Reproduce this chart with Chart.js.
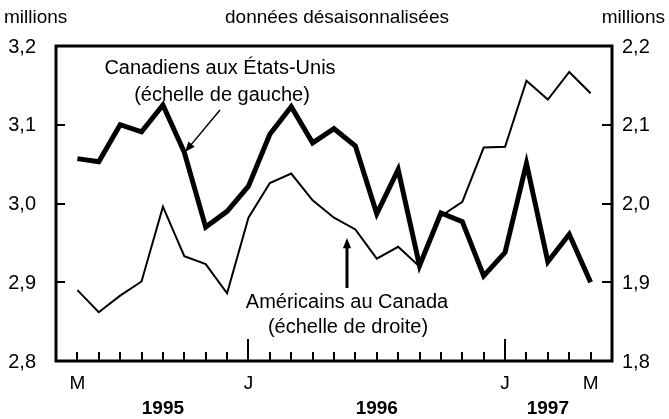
<!DOCTYPE html>
<html>
<head>
<meta charset="utf-8">
<script src="https://cdn.jsdelivr.net/npm/chart.js@4.4.1/dist/chart.umd.min.js"></script>
<style>
  html, body { margin: 0; padding: 0; background: #fff; }
  canvas { display: block; }
</style>
</head>
<body>
<canvas id="voyagesChart" width="669" height="419"></canvas>
<script>
// mai 1995 -> mai 1997, one letter per month
const months = ['M','J','J','A','S','O','N','D','J','F','M','A','M','J','J','A','S','O','N','D','J','F','M','A','M'];
const shownMonths = [0, 8, 20, 24];
const januaries = [8, 20];
const years = ['1995', '1996', '1997'];
const yearPos = [4, 14, 22];

// Canadiens aux Etats-Unis (millions, echelle de gauche)
const canadiens = [3.057, 3.053, 3.100, 3.091, 3.125, 3.065, 2.970, 2.990, 3.022, 3.088, 3.123, 3.077, 3.095,
                   3.073, 2.987, 3.043, 2.921, 2.988, 2.977, 2.908, 2.938, 3.051, 2.926, 2.961, 2.900];
// Americains au Canada (millions, echelle de droite)
const americains = [1.890, 1.862, 1.883, 1.901, 1.996, 1.933, 1.923, 1.886, 1.982, 2.026, 2.038, 2.004, 1.982,
                    1.967, 1.930, 1.945, 1.920, 1.984, 2.002, 2.071, 2.072, 2.156, 2.132, 2.167, 2.140];

const leftTicks = [2.8, 2.9, 3.0, 3.1, 3.2];
const rightTicks = [1.8, 1.9, 2.0, 2.1, 2.2];

const FONT = '"Liberation Sans", Arial, sans-serif';
const fmt = v => v.toFixed(1).replace('.', ',');

function arrow(ctx, x1, y1, x2, y2) {
    // line from (x1,y1) with head at (x2,y2)
    const a = Math.atan2(y2 - y1, x2 - x1);
    const len = 11, w = 0.38;
    ctx.beginPath();
    ctx.moveTo(x1, y1);
    ctx.lineTo(x2 - Math.cos(a) * 6, y2 - Math.sin(a) * 6);
    ctx.stroke();
    ctx.beginPath();
    ctx.moveTo(x2, y2);
    ctx.lineTo(x2 - len * Math.cos(a - w), y2 - len * Math.sin(a - w));
    ctx.lineTo(x2 - len * Math.cos(a + w), y2 - len * Math.sin(a + w));
    ctx.closePath();
    ctx.fill();
}

const framePlugin = {
    id: 'frame',
    afterDatasetsDraw(chart) {
        const ctx = chart.ctx;
        const area = chart.chartArea;
        const x = chart.scales.x, yl = chart.scales.y, yr = chart.scales.y1;
        ctx.save();
        ctx.strokeStyle = '#000';
        ctx.fillStyle = '#000';

        // frame
        ctx.lineWidth = 3;
        ctx.strokeRect(area.left, area.top, area.right - area.left, area.bottom - area.top);

        // inside ticks
        ctx.lineWidth = 2;
        ctx.beginPath();
        months.forEach((m, i) => {
            const px = Math.round(x.getPixelForValue(i));
            const h = januaries.includes(i) ? 22 : 9;
            ctx.moveTo(px, area.bottom);
            ctx.lineTo(px, area.bottom - h);
        });
        leftTicks.forEach(v => {
            const py = Math.round(yl.getPixelForValue(v));
            ctx.moveTo(area.left, py);
            ctx.lineTo(area.left + 9, py);
        });
        rightTicks.forEach(v => {
            const py = Math.round(yr.getPixelForValue(v));
            ctx.moveTo(area.right, py);
            ctx.lineTo(area.right - 10, py);
        });
        ctx.stroke();

        // texts
        ctx.font = '20px ' + FONT;
        ctx.textBaseline = 'middle';
        ctx.textAlign = 'right';
        leftTicks.forEach(v => ctx.fillText(fmt(v), 36, yl.getPixelForValue(v) + 1));
        ctx.textAlign = 'left';
        rightTicks.forEach(v => ctx.fillText(fmt(v), 622, yr.getPixelForValue(v) + 1));

        ctx.font = '19px ' + FONT;
        ctx.textAlign = 'left';
        ctx.fillText('millions', 4, 18);
        ctx.textAlign = 'right';
        ctx.fillText('millions', 665, 18);
        ctx.textAlign = 'center';
        ctx.fillText('données désaisonnalisées', 337, 18);

        ctx.font = '19px ' + FONT;
        shownMonths.forEach(i => ctx.fillText(months[i], x.getPixelForValue(i), 384));
        ctx.font = 'bold 19px ' + FONT;
        years.forEach((y, k) => ctx.fillText(y, x.getPixelForValue(yearPos[k]), 409));

        // annotations
        ctx.font = '20px ' + FONT;
        ctx.fillText('Canadiens aux États-Unis', 220, 68);
        ctx.fillText('(échelle de gauche)', 222, 95);
        ctx.fillText('Américains au Canada', 347, 302);
        ctx.fillText('(échelle de droite)', 348, 327);

        ctx.lineWidth = 1.5;
        arrow(ctx, 220, 110, 185, 152);
        ctx.lineWidth = 3;
        arrow(ctx, 347, 288, 347, 238);
        ctx.restore();
    }
};

const ctx = document.getElementById('voyagesChart').getContext('2d');
const chart = new Chart(ctx, {
    type: 'line',
    data: {
        datasets: [{
            label: 'Canadiens aux États-Unis',
            data: canadiens.map((v, i) => ({ x: i, y: v })),
            yAxisID: 'y',
            borderColor: '#000',
            borderWidth: 5,
            pointRadius: 0,
            tension: 0,
            fill: false
        }, {
            label: 'Américains au Canada',
            data: americains.map((v, i) => ({ x: i, y: v })),
            yAxisID: 'y1',
            borderColor: '#000',
            borderWidth: 2,
            pointRadius: 0,
            tension: 0,
            fill: false
        }]
    },
    options: {
        responsive: false,
        animation: false,
        layout: { padding: { left: 56, right: 57, top: 46, bottom: 58 } },
        plugins: { legend: { display: false }, tooltip: { enabled: false } },
        scales: {
            x: { type: 'linear', min: -1, max: 25, display: false },
            y: { min: 2.8, max: 3.2, display: false },
            y1: { position: 'right', min: 1.8, max: 2.2, display: false }
        }
    },
    plugins: [framePlugin]
});
</script>
</body>
</html>
